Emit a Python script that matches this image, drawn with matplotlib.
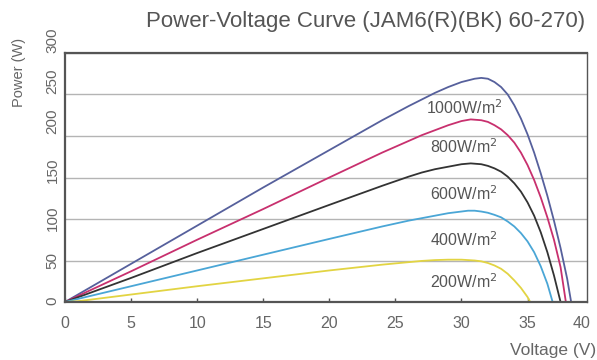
import numpy as np
import matplotlib
matplotlib.use("Agg")
import matplotlib.pyplot as plt
import matplotlib.transforms as mtransforms

plt.rcParams['font.family'] = ['Liberation Sans', 'DejaVu Sans']

# values
v_1000 = [0, 5, 10, 15, 20, 24, 26, 27, 28, 29, 30, 31, 31.5, 32, 32.5, 33, 33.5, 34, 34.5,
          35, 35.5, 36, 36.5, 37, 37.5, 38, 38.3]
p_1000 = [0, 46, 92, 138, 183, 219, 236, 244, 252, 259, 265, 269, 270, 269, 265, 259, 250, 237, 221,
          202, 180, 155, 128, 98, 65, 28, 0]

v_800 = [0, 5, 10, 15, 20, 24, 26, 27, 28, 29, 30, 30.7, 31.5, 32, 32.5, 33, 33.5, 34, 34.5,
         35, 35.5, 36, 36.5, 37, 37.5, 37.9]
p_800 = [0, 37, 75, 112, 150, 180, 194, 201, 207, 213, 218, 220, 219, 217, 213, 208, 201, 192, 180,
         165, 147, 126, 102, 75, 42, 0]

v_600 = [0, 5, 10, 15, 20, 24, 26, 27, 28, 29, 30, 30.7, 31.5, 32, 32.5, 33, 33.5, 34,
         34.5, 35, 35.5, 36, 36.5, 37, 37.5]
p_600 = [0, 29, 59, 88, 117, 140, 151, 156, 160, 163, 166, 167, 166, 164, 161, 157, 151, 143,
         133, 120, 104, 84, 60, 32, 0]

v_400 = [0, 5, 10, 15, 20, 24, 26, 27, 28, 29, 30, 30.5, 31, 31.5, 32, 32.5, 33, 33.5, 34,
         34.5, 35, 35.5, 36, 36.5, 36.9]
p_400 = [0, 19, 38, 57, 76, 91, 98, 101, 104, 107, 109, 110, 110, 109, 107.5, 105, 102, 97, 91,
         83, 73, 60, 43, 22, 0]

v_200 = [0, 1, 2, 5, 10, 15, 20, 24, 26, 27, 28, 29, 30, 31, 31.5, 32, 32.5, 33, 33.5, 34,
         34.5, 35, 35.2]
p_200 = [0, 1, 3, 9, 19, 28.5, 38, 45, 48, 49.5, 50.5, 51, 51, 50, 49, 47, 44, 40, 34, 26,
         17, 6, 0]

curves = [
    (v_1000, p_1000, '#56609c', '1000W/m$^2$', 234),
    (v_800, p_800, '#c8306e', '800W/m$^2$', 187),
    (v_600, p_600, '#333333', '600W/m$^2$', 131),
    (v_400, p_400, '#4aa6d6', '400W/m$^2$', 75),
    (v_200, p_200, '#e2d443', '200W/m$^2$', 24),
]

x_ticks = [0, 5, 10, 15, 20, 25, 30, 35, 39.1]
x_labels = ['0', '5', '10', '15', '20', '25', '30', '35', '40']
y_ticks = [0, 50, 100, 150, 200, 250, 300]
y_label_shift = [1, 0, 1, 7, 15, 13, 13]  # px, the rotated labels sit a bit high at the top

fig = plt.figure(figsize=(5.97, 3.60), dpi=100)
ax = fig.add_axes([65 / 597, 58 / 360, 522 / 597, 249 / 360])

for v, p, col, lab, ly in curves:
    ax.plot(v, p, color=col, lw=1.3, solid_joinstyle='round')
    ax.text(30.2, ly, lab, color='#555555', fontsize=11.5, ha='center', va='center')

ax.set_xlim(0, 39.5)
ax.set_ylim(0, 300)
ax.set_xticks(x_ticks)
ax.set_xticklabels(x_labels)
ax.set_yticks(y_ticks)
ax.set_yticklabels([str(t) for t in y_ticks], rotation=90, va='center')
ax.xaxis.get_major_ticks()[-1].tick1line.set_visible(False)
ax.tick_params(axis='x', direction='in', length=3, width=1, color='#555555',
               labelcolor='#666666', labelsize=11.5, pad=10)
ax.tick_params(axis='y', length=0, labelcolor='#666666', labelsize=11, pad=4)
for shift, lbl in zip(y_label_shift, ax.get_yticklabels()):
    lbl.set_transform(lbl.get_transform() +
                      mtransforms.ScaledTranslation(0, shift / 100, fig.dpi_scale_trans))
ax.grid(axis='y', color='#b4b4b4', lw=1)
ax.set_axisbelow(True)
for s in ax.spines.values():
    s.set_color('#555555')
    s.set_linewidth(1.6)
ax.spines['right'].set_linewidth(1)

fig.text(366 / 597, 1 - 22 / 360, 'Power-Voltage Curve (JAM6(R)(BK) 60-270)',
         ha='center', va='center', fontsize=16, color='#555555')
fig.text(19 / 597, 1 - 72 / 360, 'Power (W)', rotation=90, ha='center', va='center',
         fontsize=10.5, color='#666666')
fig.text(553 / 597, 1 - 351 / 360, 'Voltage (V)', ha='center', va='center',
         fontsize=12.5, color='#666666')

fig.savefig('out.png', dpi=100)
